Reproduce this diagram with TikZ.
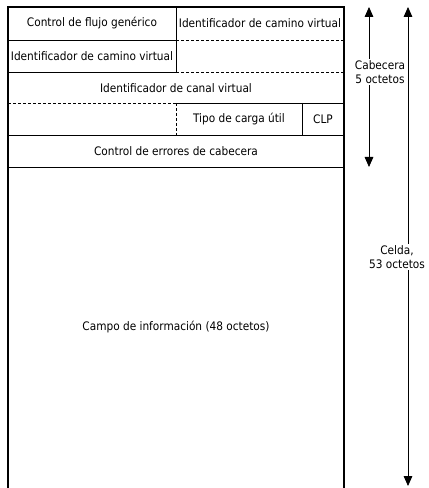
\documentclass[tikz,border=0pt]{standalone}
\usepackage{fontspec}
\setmainfont{DejaVu Sans Condensed}
\usetikzlibrary{arrows.meta}
\begin{document}
\begin{tikzpicture}[x=0.75pt,y=-0.75pt,
  outer/.style={line width=0.9pt},
  rule/.style={line width=0.5pt},
  dashrule/.style={line width=0.5pt, dash pattern=on 2.25pt off 1.5pt},
  field/.style={font=\fontsize{8.8}{10.5}\selectfont, inner sep=0pt},
  span/.style={line width=0.6pt, {Triangle[width=6.5pt,length=7.5pt]}-{Triangle[width=6.5pt,length=7.5pt]}},
  spanlabel/.style={font=\fontsize{8.8}{10.5}\selectfont, fill=white, align=center, inner sep=1pt}]
\useasboundingbox (0,0) rectangle (428,488);

% cell frame (open at the bottom)
\draw[outer] (8,488) -- (8,7) -- (344,7) -- (344,488);

% header row separators
\draw[rule] (8,40) -- (176,40);
\draw[dashrule] (176,40) -- (344,40);
\draw[rule] (8,72) -- (176,72);
\draw[dashrule] (176,72) -- (344,72);
\draw[dashrule] (8,103) -- (176,103);
\draw[rule] (176,103) -- (344,103);
\draw[rule] (8,135) -- (344,135);
\draw[rule] (8,167) -- (344,167);
\draw[rule] (176,7) -- (176,72);
\draw[dashrule] (176,103) -- (176,135);
\draw[rule] (302,103) -- (302,135);

% field names
\node[field] (gfc)   at (92,23)  {Control de flujo genérico};
\node[field] (vpi1)  at (260,23) {Identificador de camino virtual};
\node[field] (vpi2)  at (92,56)  {Identificador de camino virtual};
\node[field] (vci)   at (176,88) {Identificador de canal virtual};
\node[field] (pt)    at (239,119) {Tipo de carga útil};
\node[field] (clp)   at (323,119) {CLP};
\node[field] (hec)   at (176,151) {Control de errores de cabecera};
\node[field] (info)  at (176,327) {Campo de información (48 octetos)};

% extent of header and of whole cell
\coordinate (hdtop) at (369,7);
\coordinate (hdbot) at (369,167);
\coordinate (cltop) at (408,7);
\coordinate (clbot) at (408,486);
\draw[span] (hdbot) -- (hdtop);
\draw[span] (clbot) -- (cltop);
\node[spanlabel] (hdlab) at (380,72)  {Cabecera\\5 octetos};
\node[spanlabel] (cllab) at (397,257) {Celda,\\53 octetos};
\end{tikzpicture}
\end{document}
